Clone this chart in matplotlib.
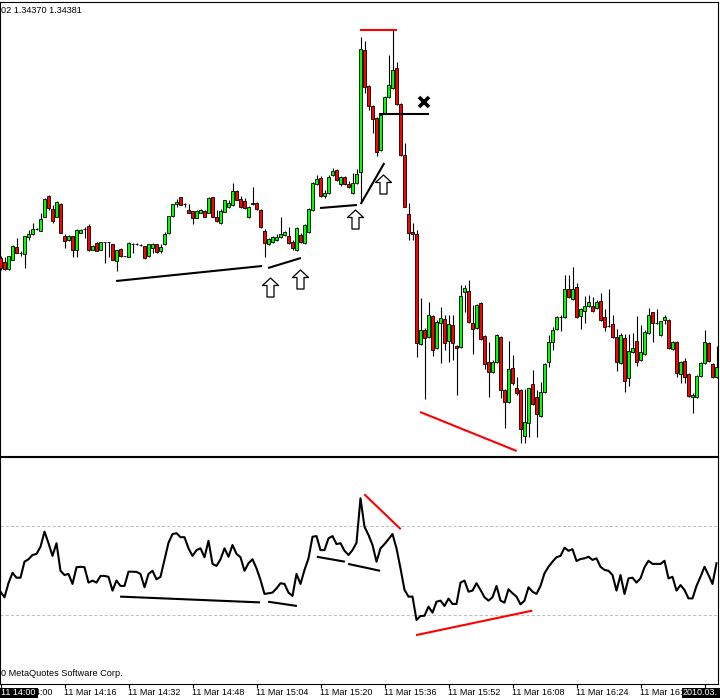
import matplotlib
matplotlib.use("Agg")
import matplotlib.pyplot as plt
from matplotlib.path import Path
from matplotlib.patches import Rectangle
from matplotlib.transforms import blended_transform_factory

# ---------------- data (EURUSD M1, 11 Mar 2010, 14:00 - 16:59) ----------------
opens = [1.34490, 1.34486, 1.34479, 1.34488, 1.34501, 1.34495, 1.34494, 1.34511, 1.34514, 1.34519,
         1.34517, 1.34531, 1.34552, 1.34539, 1.34531, 1.34544, 1.34512, 1.34508, 1.34512, 1.34498,
         1.34515, 1.34519, 1.34522, 1.34498, 1.34505, 1.34498, 1.34506, 1.34506, 1.34504, 1.34487,
         1.34499, 1.34492, 1.34491, 1.34504, 1.34504, 1.34503, 1.34502, 1.34492, 1.34500, 1.34504,
         1.34497, 1.34504, 1.34515, 1.34532, 1.34544, 1.34551, 1.34544, 1.34538, 1.34537, 1.34530,
         1.34535, 1.34537, 1.34535, 1.34551, 1.34531, 1.34525, 1.34536, 1.34541, 1.34543, 1.34557,
         1.34549, 1.34547, 1.34531, 1.34544, 1.34545, 1.34538, 1.34517, 1.34504, 1.34506, 1.34508,
         1.34511, 1.34513, 1.34512, 1.34506, 1.34498, 1.34513, 1.34505, 1.34516, 1.34538, 1.34564,
         1.34570, 1.34552, 1.34555, 1.34573, 1.34578, 1.34564, 1.34571, 1.34564, 1.34555, 1.34565,
         1.34576, 1.34698, 1.34662, 1.34642, 1.34630, 1.34598, 1.34635, 1.34651, 1.34660, 1.34680,
         1.34644, 1.34593, 1.34534, 1.34516, 1.34514, 1.34404, 1.34418, 1.34411, 1.34432, 1.34400,
         1.34425, 1.34429, 1.34407, 1.34423, 1.34402, 1.34401, 1.34456, 1.34457, 1.34425, 1.34420,
         1.34445, 1.34412, 1.34386, 1.34376, 1.34386, 1.34411, 1.34358, 1.34346, 1.34380, 1.34360,
         1.34358, 1.34312, 1.34325, 1.34364, 1.34351, 1.34332, 1.34356, 1.34386, 1.34406, 1.34419,
         1.34431, 1.34431, 1.34459, 1.34449, 1.34461, 1.34432, 1.34437, 1.34442, 1.34442, 1.34440,
         1.34447, 1.34431, 1.34422, 1.34424, 1.34411, 1.34385, 1.34410, 1.34370, 1.34396, 1.34407,
         1.34388, 1.34394, 1.34415, 1.34436, 1.34425, 1.34413, 1.34428, 1.34428, 1.34399, 1.34406,
         1.34374, 1.34387, 1.34374, 1.34351, 1.34351, 1.34372, 1.34385, 1.34405, 1.34384, 1.34371]

highs = [1.34492, 1.34491, 1.34492, 1.34503, 1.34510, 1.34497, 1.34512, 1.34518, 1.34525, 1.34520,
         1.34535, 1.34550, 1.34553, 1.34543, 1.34547, 1.34545, 1.34514, 1.34513, 1.34512, 1.34519,
         1.34519, 1.34521, 1.34524, 1.34503, 1.34506, 1.34506, 1.34506, 1.34506, 1.34504, 1.34498,
         1.34500, 1.34492, 1.34506, 1.34505, 1.34505, 1.34504, 1.34502, 1.34504, 1.34505, 1.34504,
         1.34504, 1.34516, 1.34532, 1.34544, 1.34549, 1.34551, 1.34545, 1.34544, 1.34537, 1.34538,
         1.34539, 1.34538, 1.34551, 1.34551, 1.34538, 1.34539, 1.34548, 1.34548, 1.34565, 1.34558,
         1.34552, 1.34550, 1.34542, 1.34561, 1.34546, 1.34539, 1.34519, 1.34510, 1.34512, 1.34514,
         1.34531, 1.34517, 1.34521, 1.34508, 1.34521, 1.34515, 1.34524, 1.34540, 1.34566, 1.34573,
         1.34572, 1.34558, 1.34573, 1.34580, 1.34579, 1.34572, 1.34572, 1.34567, 1.34575, 1.34579,
         1.34711, 1.34707, 1.34663, 1.34643, 1.34631, 1.34634, 1.34652, 1.34693, 1.34718, 1.34686,
         1.34645, 1.34605, 1.34545, 1.34525, 1.34518, 1.34450, 1.34420, 1.34446, 1.34433, 1.34428,
         1.34441, 1.34433, 1.34433, 1.34433, 1.34403, 1.34463, 1.34463, 1.34468, 1.34443, 1.34444,
         1.34446, 1.34413, 1.34406, 1.34388, 1.34414, 1.34412, 1.34359, 1.34407, 1.34393, 1.34371,
         1.34359, 1.34359, 1.34360, 1.34378, 1.34358, 1.34366, 1.34385, 1.34413, 1.34421, 1.34432,
         1.34433, 1.34473, 1.34473, 1.34481, 1.34465, 1.34440, 1.34452, 1.34453, 1.34451, 1.34448,
         1.34455, 1.34439, 1.34459, 1.34433, 1.34419, 1.34415, 1.34414, 1.34414, 1.34415, 1.34432,
         1.34423, 1.34418, 1.34440, 1.34436, 1.34439, 1.34427, 1.34433, 1.34429, 1.34407, 1.34407,
         1.34387, 1.34390, 1.34375, 1.34355, 1.34373, 1.34386, 1.34418, 1.34406, 1.34385, 1.34402]

lows = [1.34478, 1.34478, 1.34478, 1.34488, 1.34495, 1.34492, 1.34480, 1.34508, 1.34513, 1.34518,
        1.34517, 1.34531, 1.34538, 1.34525, 1.34531, 1.34515, 1.34500, 1.34507, 1.34491, 1.34491,
        1.34515, 1.34510, 1.34497, 1.34498, 1.34497, 1.34498, 1.34485, 1.34491, 1.34488, 1.34477,
        1.34491, 1.34492, 1.34491, 1.34495, 1.34503, 1.34502, 1.34489, 1.34491, 1.34495, 1.34495,
        1.34495, 1.34503, 1.34514, 1.34531, 1.34541, 1.34543, 1.34541, 1.34535, 1.34524, 1.34530,
        1.34535, 1.34531, 1.34535, 1.34531, 1.34526, 1.34524, 1.34536, 1.34540, 1.34542, 1.34548,
        1.34540, 1.34539, 1.34530, 1.34543, 1.34538, 1.34520, 1.34491, 1.34503, 1.34505, 1.34507,
        1.34510, 1.34512, 1.34504, 1.34498, 1.34497, 1.34505, 1.34504, 1.34515, 1.34537, 1.34563,
        1.34551, 1.34550, 1.34554, 1.34572, 1.34567, 1.34562, 1.34563, 1.34560, 1.34554, 1.34564,
        1.34545, 1.34655, 1.34638, 1.34615, 1.34592, 1.34597, 1.34634, 1.34650, 1.34659, 1.34643,
        1.34592, 1.34541, 1.34508, 1.34508, 1.34391, 1.34403, 1.34349, 1.34410, 1.34392, 1.34399,
        1.34385, 1.34398, 1.34386, 1.34388, 1.34353, 1.34400, 1.34436, 1.34425, 1.34394, 1.34419,
        1.34408, 1.34379, 1.34351, 1.34375, 1.34385, 1.34350, 1.34320, 1.34345, 1.34363, 1.34353,
        1.34305, 1.34305, 1.34311, 1.34343, 1.34311, 1.34331, 1.34355, 1.34381, 1.34398, 1.34418,
        1.34417, 1.34430, 1.34450, 1.34448, 1.34430, 1.34419, 1.34425, 1.34441, 1.34436, 1.34439,
        1.34427, 1.34417, 1.34421, 1.34410, 1.34377, 1.34384, 1.34356, 1.34362, 1.34395, 1.34382,
        1.34387, 1.34393, 1.34414, 1.34406, 1.34424, 1.34412, 1.34424, 1.34399, 1.34398, 1.34371,
        1.34365, 1.34365, 1.34351, 1.34335, 1.34350, 1.34371, 1.34384, 1.34386, 1.34370, 1.34370]

closes = [1.34480, 1.34479, 1.34492, 1.34502, 1.34495, 1.34495, 1.34512, 1.34514, 1.34519, 1.34519,
          1.34529, 1.34549, 1.34540, 1.34527, 1.34546, 1.34515, 1.34507, 1.34512, 1.34498, 1.34518,
          1.34518, 1.34519, 1.34498, 1.34502, 1.34497, 1.34506, 1.34506, 1.34506, 1.34488, 1.34498,
          1.34492, 1.34492, 1.34505, 1.34504, 1.34504, 1.34503, 1.34490, 1.34504, 1.34504, 1.34496,
          1.34501, 1.34514, 1.34532, 1.34544, 1.34546, 1.34543, 1.34544, 1.34535, 1.34530, 1.34537,
          1.34538, 1.34531, 1.34550, 1.34531, 1.34527, 1.34537, 1.34548, 1.34545, 1.34557, 1.34548,
          1.34541, 1.34540, 1.34541, 1.34545, 1.34539, 1.34521, 1.34505, 1.34509, 1.34511, 1.34511,
          1.34514, 1.34516, 1.34505, 1.34500, 1.34520, 1.34506, 1.34523, 1.34539, 1.34565, 1.34569,
          1.34552, 1.34555, 1.34571, 1.34577, 1.34568, 1.34571, 1.34564, 1.34561, 1.34565, 1.34574,
          1.34699, 1.34661, 1.34642, 1.34629, 1.34596, 1.34633, 1.34651, 1.34663, 1.34678, 1.34644,
          1.34593, 1.34541, 1.34515, 1.34514, 1.34405, 1.34418, 1.34410, 1.34433, 1.34398, 1.34426,
          1.34430, 1.34405, 1.34424, 1.34405, 1.34400, 1.34452, 1.34460, 1.34426, 1.34419, 1.34443,
          1.34409, 1.34384, 1.34376, 1.34386, 1.34413, 1.34358, 1.34346, 1.34379, 1.34365, 1.34355,
          1.34319, 1.34326, 1.34360, 1.34344, 1.34334, 1.34356, 1.34384, 1.34406, 1.34418, 1.34431,
          1.34431, 1.34459, 1.34451, 1.34459, 1.34431, 1.34439, 1.34442, 1.34446, 1.34437, 1.34446,
          1.34428, 1.34421, 1.34422, 1.34411, 1.34386, 1.34413, 1.34367, 1.34397, 1.34400, 1.34386,
          1.34396, 1.34416, 1.34433, 1.34425, 1.34425, 1.34427, 1.34431, 1.34400, 1.34406, 1.34375,
          1.34386, 1.34371, 1.34352, 1.34353, 1.34372, 1.34385, 1.34406, 1.34387, 1.34371, 1.34381]

rsi = [40.6, 38.1, 44.5, 49.1, 46.9, 46.9, 54.1, 55.2, 57.1, 57.6,
       60.8, 67.6, 62.4, 56.7, 62.4, 50.0, 48.1, 48.6, 44.1, 51.6,
       51.8, 51.6, 44.7, 45.6, 44.7, 47.7, 47.7, 47.3, 41.1, 45.6,
       43.2, 43.2, 49.6, 49.6, 49.5, 48.6, 42.6, 48.6, 50.0, 46.2,
       47.3, 54.9, 62.6, 66.5, 66.9, 65.1, 65.1, 60.1, 56.7, 59.3,
       60.1, 56.1, 63.5, 53.1, 52.2, 55.2, 60.1, 56.3, 61.6, 57.6,
       56.1, 50.0, 53.4, 55.2, 51.1, 45.9, 39.6, 39.9, 40.2, 42.1,
       44.4, 44.1, 40.2, 38.7, 48.6, 44.1, 50.4, 55.6, 65.3, 65.6,
       59.3, 59.3, 64.6, 65.6, 62.0, 62.4, 59.0, 57.1, 59.3, 62.6,
       82.6, 69.8, 66.1, 61.6, 54.1, 60.1, 62.0, 64.2, 66.5, 60.1,
       51.1, 41.4, 38.4, 38.4, 27.9, 29.7, 29.8, 33.9, 31.2, 36.1,
       36.6, 34.2, 37.5, 35.1, 35.1, 44.7, 45.6, 40.6, 41.1, 44.4,
       41.4, 38.1, 36.6, 38.1, 43.2, 36.6, 35.7, 41.7, 39.9, 38.4,
       34.9, 36.6, 42.6, 40.6, 39.6, 43.2, 48.9, 51.8, 54.1, 56.1,
       56.7, 60.4, 59.0, 59.7, 54.4, 55.3, 55.6, 56.3, 54.9, 55.6,
       51.8, 50.4, 50.0, 48.1, 41.1, 48.1, 39.6, 46.6, 46.9, 44.7,
       46.6, 51.6, 54.5, 53.1, 53.1, 53.1, 54.5, 46.6, 47.3, 41.1,
       43.6, 41.4, 37.6, 37.6, 43.2, 47.3, 51.8, 48.1, 44.1, 53.4]

rsi_levels = [70, 30]

tick_idx = [0, 16, 32, 48, 64, 80, 96, 112, 128, 144, 160, 176]
tick_labels = ["11 Mar 14:00", "11 Mar 14:16", "11 Mar 14:32", "11 Mar 14:48",
               "11 Mar 15:04", "11 Mar 15:20", "11 Mar 15:36", "11 Mar 15:52",
               "11 Mar 16:08", "11 Mar 16:24", "11 Mar 16:40", ""]

header_text = "02 1.34370 1.34381"
copyright_text = "0 MetaQuotes Software Corp."
left_box_text = "11 14:00"
right_box_text = "2010.03."

# hand-drawn analysis objects (bar index, price / rsi)
price_black_lines = [((28.9, 1.34467), (65.4, 1.34482)),
                     ((66.9, 1.34480), (75.1, 1.34490)),
                     ((79.9, 1.34540), (89.1, 1.34543)),
                     ((90.05, 1.34544), (95.95, 1.34585)),
                     ((94.6, 1.34634), (107.1, 1.34634))]
price_red_lines = [((89.9, 1.34718), (99.1, 1.34718)),
                   ((104.9, 1.34336), (129.05, 1.34297))]
arrow_x = [67.4, 74.75, 88.6, 95.6]
arrow_y = [1.344605, 1.34469, 1.34529, 1.34564]
cross_x = [105.75]
cross_y = [1.34646]
rsi_black_lines = [((29.9, 38.4), (64.9, 35.8)),
                   ((66.9, 36.1), (74.1, 34.2)),
                   ((79.1, 56.3), (86.1, 54.1)),
                   ((86.9, 53.1), (94.9, 50.0))]
rsi_red_lines = [((90.95, 84.4), (100.05, 68.7)),
                 ((103.9, 21.1), (132.95, 32.1))]

# ---------------- figure ----------------
W, H = 720, 700
FONT = ["Liberation Sans", "DejaVu Sans"]
plt.rcParams["font.family"] = FONT

fig = plt.figure(figsize=(W / 100, H / 100), dpi=100)
fig.patch.set_facecolor("white")


def fx(px):
    return px / W


def fy(py):
    return 1 - py / H


ax1 = fig.add_axes([0, fy(455.5), fx(717.5), (455.5 - 1.5) / H])
ax2 = fig.add_axes([0, fy(683.5), fx(717.5), (683.5 - 456.5) / H])

for ax in (ax1, ax2):
    ax.set_xlim(-0.125, 179.25)
    for s in ax.spines.values():
        s.set_color("black")
        s.set_linewidth(0.8)
    ax.set_facecolor("white")
    ax.set_yticks([])

ax1.set_xticks([])
ax1.set_ylim(1.342925, 1.347465)
ax2.set_ylim(-0.65, 101.37)

# candles
xs = list(range(len(opens)))
ax1.vlines(xs, lows, highs, color="black", linewidth=0.8, zorder=2)
bottoms = [min(o, c) for o, c in zip(opens, closes)]
heights = [abs(c - o) for o, c in zip(opens, closes)]
colors = ["#00ff00" if c >= o else "#ff0000" for o, c in zip(opens, closes)]
ax1.bar(xs, heights, bottom=bottoms, width=0.7, color=colors,
        edgecolor="black", linewidth=0.6, zorder=3)

# analysis objects on price chart
for (x0, y0), (x1, y1) in price_black_lines:
    ax1.plot([x0, x1], [y0, y1], color="black", lw=1.5, solid_capstyle="butt", zorder=5)
for (x0, y0), (x1, y1) in price_red_lines:
    ax1.plot([x0, x1], [y0, y1], color="#ff0000", lw=1.5, solid_capstyle="butt", zorder=5)

arrow_path = Path([(0, 9.5), (8, 2), (3.5, 2), (3.5, -9.5), (-3.5, -9.5), (-3.5, 2), (-8, 2), (0, 9.5)],
                  [Path.MOVETO] + [Path.LINETO] * 6 + [Path.CLOSEPOLY])
ax1.plot(arrow_x, arrow_y, ls="none", marker=arrow_path, markersize=13.7,
         markerfacecolor="white", markeredgecolor="black", markeredgewidth=0.9, zorder=6)
ax1.plot(cross_x, cross_y, ls="none", marker="x", markersize=7.5,
         markeredgewidth=2.6, color="black", zorder=6)

# RSI panel
for lvl in rsi_levels:
    ax2.axhline(lvl, color="#c0c0c0", lw=0.75, ls=(0, (3, 2)), zorder=1)
ax2.plot(xs, rsi, color="black", lw=1.5, zorder=3)
for (x0, y0), (x1, y1) in rsi_black_lines:
    ax2.plot([x0, x1], [y0, y1], color="black", lw=1.5, solid_capstyle="butt", zorder=4)
for (x0, y0), (x1, y1) in rsi_red_lines:
    ax2.plot([x0, x1], [y0, y1], color="#ff0000", lw=1.5, solid_capstyle="butt", zorder=4)

# time axis
ax2.set_xticks(tick_idx)
ax2.tick_params(axis="x", direction="out", length=3, width=0.8, color="black",
                labelbottom=False)
tr = blended_transform_factory(ax2.transData, fig.transFigure)
for k, lab in zip(tick_idx, tick_labels):
    if lab:
        fig.text(k - 0.25, fy(692.7), lab, transform=tr, ha="left", va="center",
                 fontsize=6.5, color="black")

# texts
fig.text(fx(1), fy(10.5), header_text, ha="left", va="center", fontsize=6.6, color="black")
fig.text(fx(1), fy(674), copyright_text, ha="left", va="center", fontsize=6.6, color="black")

# date boxes
fig.add_artist(Rectangle((0, fy(698)), fx(38), 10.5 / H, transform=fig.transFigure,
                         facecolor="black", edgecolor="none", zorder=10))
fig.text(fx(1), fy(692.7), left_box_text, ha="left", va="center", fontsize=6.5,
         color="white", zorder=11)
fig.add_artist(Rectangle((fx(682), fy(698)), fx(38), 10.5 / H, transform=fig.transFigure,
                         facecolor="black", edgecolor="none", zorder=10))
fig.text(fx(683), fy(692.7), right_box_text, ha="left", va="center", fontsize=6.5,
         color="white", zorder=11)

fig.savefig("out.png", dpi=100, facecolor="white")
